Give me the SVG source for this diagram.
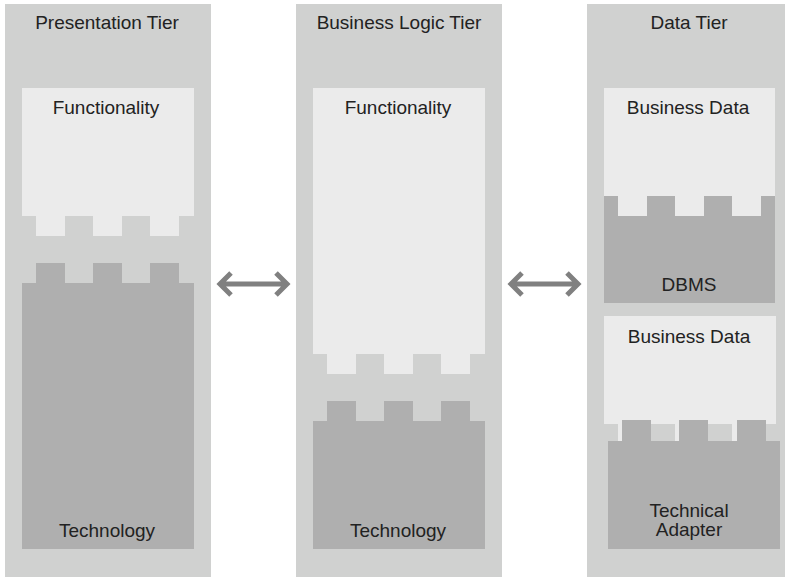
<svg xmlns="http://www.w3.org/2000/svg" width="785" height="577" viewBox="0 0 785 577">
<style>
.col{fill:#d0d1d0}
.lt{fill:#ebebeb}
.dk{fill:#afafaf}
text{font-family:"Liberation Sans",Arial,sans-serif;font-size:19px;fill:#222;text-anchor:middle}
.arr{fill:none;stroke:#808080;stroke-width:5;stroke-linejoin:miter;stroke-linecap:butt}
</style>
<rect width="785" height="577" fill="#fff"/>
<g id="presentation-tier">
<rect class="col" x="5" y="4" width="206" height="573"/>
<text x="107" y="29">Presentation Tier</text>
<g id="pres-functionality">
<rect class="lt" x="22" y="88" width="172" height="128"/>
<rect class="lt" x="36" y="215" width="29" height="21"/>
<rect class="lt" x="93" y="215" width="29" height="21"/>
<rect class="lt" x="150" y="215" width="29" height="21"/>
<text x="106" y="114">Functionality</text>
</g>
<g id="pres-technology">
<rect class="dk" x="36" y="263" width="29" height="21"/>
<rect class="dk" x="93" y="263" width="29" height="21"/>
<rect class="dk" x="150" y="263" width="29" height="21"/>
<rect class="dk" x="22" y="283" width="172" height="266"/>
<text x="107" y="537">Technology</text>
</g>
</g>
<g id="business-logic-tier">
<rect class="col" x="296" y="4" width="206" height="573"/>
<text x="399" y="29">Business Logic Tier</text>
<g id="bl-functionality">
<rect class="lt" x="313" y="88" width="172" height="266"/>
<rect class="lt" x="327" y="353" width="29" height="21"/>
<rect class="lt" x="384" y="353" width="29" height="21"/>
<rect class="lt" x="441" y="353" width="29" height="21"/>
<text x="398" y="114">Functionality</text>
</g>
<g id="bl-technology">
<rect class="dk" x="327" y="401" width="29" height="21"/>
<rect class="dk" x="384" y="401" width="29" height="21"/>
<rect class="dk" x="441" y="401" width="29" height="21"/>
<rect class="dk" x="313" y="421" width="172" height="128"/>
<text x="398" y="537">Technology</text>
</g>
</g>
<g id="data-tier">
<rect class="col" x="587" y="4" width="198" height="573"/>
<text x="689" y="29">Data Tier</text>
<g id="dbms-block">
<rect class="dk" x="604" y="196" width="171" height="107"/>
<rect class="lt" x="604" y="88" width="171" height="108"/>
<rect class="lt" x="618" y="195" width="29" height="21"/>
<rect class="lt" x="675" y="195" width="29" height="21"/>
<rect class="lt" x="732" y="195" width="29" height="21"/>
<text x="688" y="114">Business Data</text>
<text x="689" y="291">DBMS</text>
</g>
<g id="adapter-block">
<rect class="lt" x="604" y="316" width="172" height="108"/>
<rect class="lt" x="618" y="423" width="29" height="18"/>
<rect class="lt" x="675" y="423" width="29" height="18"/>
<rect class="lt" x="732" y="423" width="29" height="18"/>
<rect class="dk" x="622" y="420" width="29" height="22"/>
<rect class="dk" x="679" y="420" width="29" height="22"/>
<rect class="dk" x="737" y="420" width="29" height="22"/>
<rect class="dk" x="608" y="441" width="172" height="108"/>
<text x="689" y="343">Business Data</text>
<text x="689" y="517">Technical</text>
<text x="689" y="536">Adapter</text>
</g>
</g>
<g id="connectors">
<path class="arr" d="M220 284H287M231 273L220 284L231 295M276 273L287 284L276 295"/>
<path class="arr" d="M511 284H578M522 273L511 284L522 295M567 273L578 284L567 295"/>
</g>
</svg>
